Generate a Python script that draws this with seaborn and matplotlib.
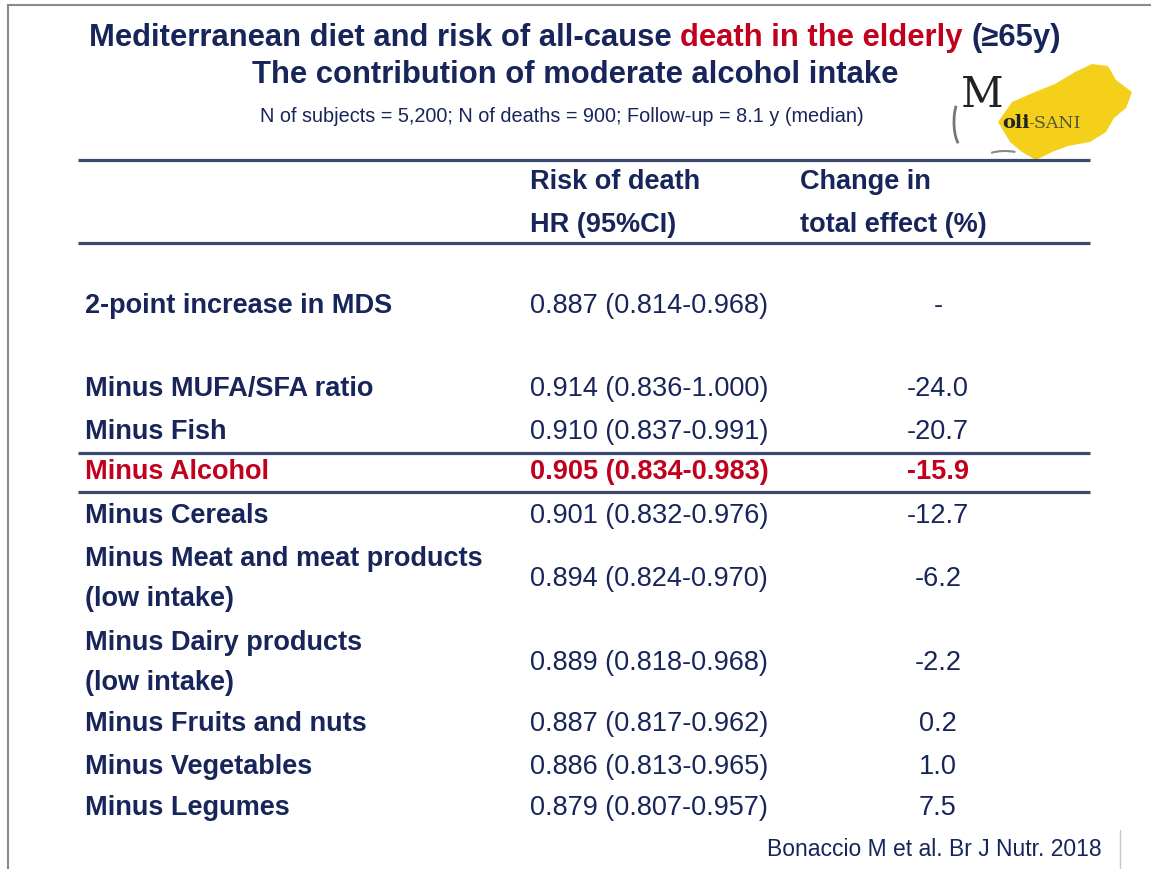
import matplotlib.pyplot as plt
import matplotlib.patches as mpatches
import seaborn as sns

sns.set_theme(style='white')
plt.rcParams['font.family'] = ['Liberation Sans', 'DejaVu Sans']

# table content
row_labels = ['2-point increase in MDS', 'Minus MUFA/SFA ratio', 'Minus Fish',
              'Minus Alcohol', 'Minus Cereals',
              'Minus Meat and meat products\n(low intake)',
              'Minus Dairy products\n(low intake)',
              'Minus Fruits and nuts', 'Minus Vegetables', 'Minus Legumes']
hr = [0.887, 0.914, 0.910, 0.905, 0.901, 0.894, 0.889, 0.887, 0.886, 0.879]
ci_low = [0.814, 0.836, 0.837, 0.834, 0.832, 0.824, 0.818, 0.817, 0.813, 0.807]
ci_high = [0.968, 1.000, 0.991, 0.983, 0.976, 0.970, 0.968, 0.962, 0.965, 0.957]
change = [None, -24.0, -20.7, -15.9, -12.7, -6.2, -2.2, 0.2, 1.0, 7.5]
highlight = 'Minus Alcohol'

title_parts = [('Mediterranean diet and risk of all-cause', 'navy'),
               ('death in the elderly', 'red'),
               ('(≥65y)', 'navy')]
title2 = 'The contribution of moderate alcohol intake'
subtitle = 'N of subjects = 5,200; N of deaths = 900; Follow-up = 8.1 y (median)'
head1 = ['Risk of death', 'HR (95%CI)']
head2 = ['Change in', 'total effect (%)']
source = 'Bonaccio M et al. Br J Nutr. 2018'

# layout (pixels)
row_y = [306, 389, 432, 472, 516, 579, 663, 724, 767, 808]
NAVY = '#17255a'
RED = '#c0001c'
RULE = '#3b4a6e'
colors = {'navy': NAVY, 'red': RED}
FS = 19.5

fig = plt.figure(figsize=(11.51, 8.69), dpi=100)
ax = fig.add_axes([0, 0, 1, 1])
ax.set_xlim(0, 1151)
ax.set_ylim(869, 0)
ax.axis('off')

# slide frame
ax.plot([8, 1151], [5, 5], color='#8a8a8a', lw=1.5)
ax.plot([8, 8], [5, 869], color='#8a8a8a', lw=1.5)
ax.plot([1120, 1120], [830, 869], color='#c8c8c8', lw=1)

# title with coloured part
fig.canvas.draw()
r = fig.canvas.get_renderer()
full = ' '.join(p for p, _ in title_parts)
tkw = dict(fontsize=22.3, fontweight='bold', va='center', ha='left')


def width(s):
    t = ax.text(0, 0, s, **tkw)
    w = t.get_window_extent(r).width
    t.remove()
    return w


x0 = 575 - width(full) / 2
pos = 0
for part, c in title_parts:
    start = full.index(part, pos)
    end = start + len(part)
    ax.text(x0 + width(full[:end]) - width(part), 38, part, color=colors[c], **tkw)
    pos = end
ax.text(575, 75, title2, color=NAVY, fontsize=22.3, fontweight='bold',
        ha='center', va='center')
ax.text(562, 117, subtitle, color=NAVY, fontsize=14.3, ha='center', va='center')

# logo
molise = [(998, 122), (1012, 102), (1035, 92), (1055, 84), (1075, 72), (1092, 64),
          (1108, 66), (1116, 80), (1132, 92), (1126, 108), (1114, 118), (1106, 132),
          (1090, 142), (1068, 146), (1052, 152), (1036, 160), (1022, 152), (1010, 142)]
ax.add_patch(mpatches.Polygon(molise, closed=True, color='#f5d01a', lw=0, zorder=1))
ax.text(961, 95, 'M', fontsize=30, family='DejaVu Serif', color='#222222',
        ha='left', va='center', zorder=2)
ax.text(1002, 123, 'oli', fontsize=14, family='DejaVu Serif', fontweight='bold',
        color='#222222', ha='left', va='center', zorder=2)
ax.text(1028, 123, '-SANI', fontsize=12.5, family='DejaVu Serif', color='#555533',
        ha='left', va='center', zorder=2)
ax.add_patch(mpatches.Arc((962, 122), 16, 48, theta1=100, theta2=250,
                          color='#777777', lw=2, zorder=2))
ax.add_patch(mpatches.Arc((1005, 158), 40, 14, theta1=200, theta2=330,
                          color='#888888', lw=1.5, zorder=2))

# rules
for y in [160, 243, 453, 492]:
    ax.plot([78, 1090], [y, y], color=RULE, lw=2.3, solid_capstyle='butt')

# header
hkw = dict(fontsize=FS, fontweight='bold', color=NAVY, va='center', ha='left')
ax.text(530, 182, head1[0], **hkw)
ax.text(530, 225, head1[1], **hkw)
ax.text(800, 182, head2[0], **hkw)
ax.text(800, 225, head2[1], **hkw)

# body
for lab, h, lo, hi, ch, y in zip(row_labels, hr, ci_low, ci_high, change, row_y):
    hot = lab == highlight
    col = RED if hot else NAVY
    ax.text(85, y, lab, fontsize=FS, fontweight='bold', color=col,
            ha='left', va='center', linespacing=1.72)
    ax.text(530, y, f'{h:.3f} ({lo:.3f}-{hi:.3f})', fontsize=FS,
            fontweight='bold' if hot else 'normal', color=col, ha='left', va='center')
    ax.text(938, y, '-' if ch is None else f'{ch:.1f}', fontsize=FS,
            fontweight='bold' if hot else 'normal', color=col, ha='center', va='center')

ax.text(1102, 850, source, fontsize=16.5, color=NAVY, ha='right', va='center')

fig.savefig('out.png', dpi=100, facecolor='white')
